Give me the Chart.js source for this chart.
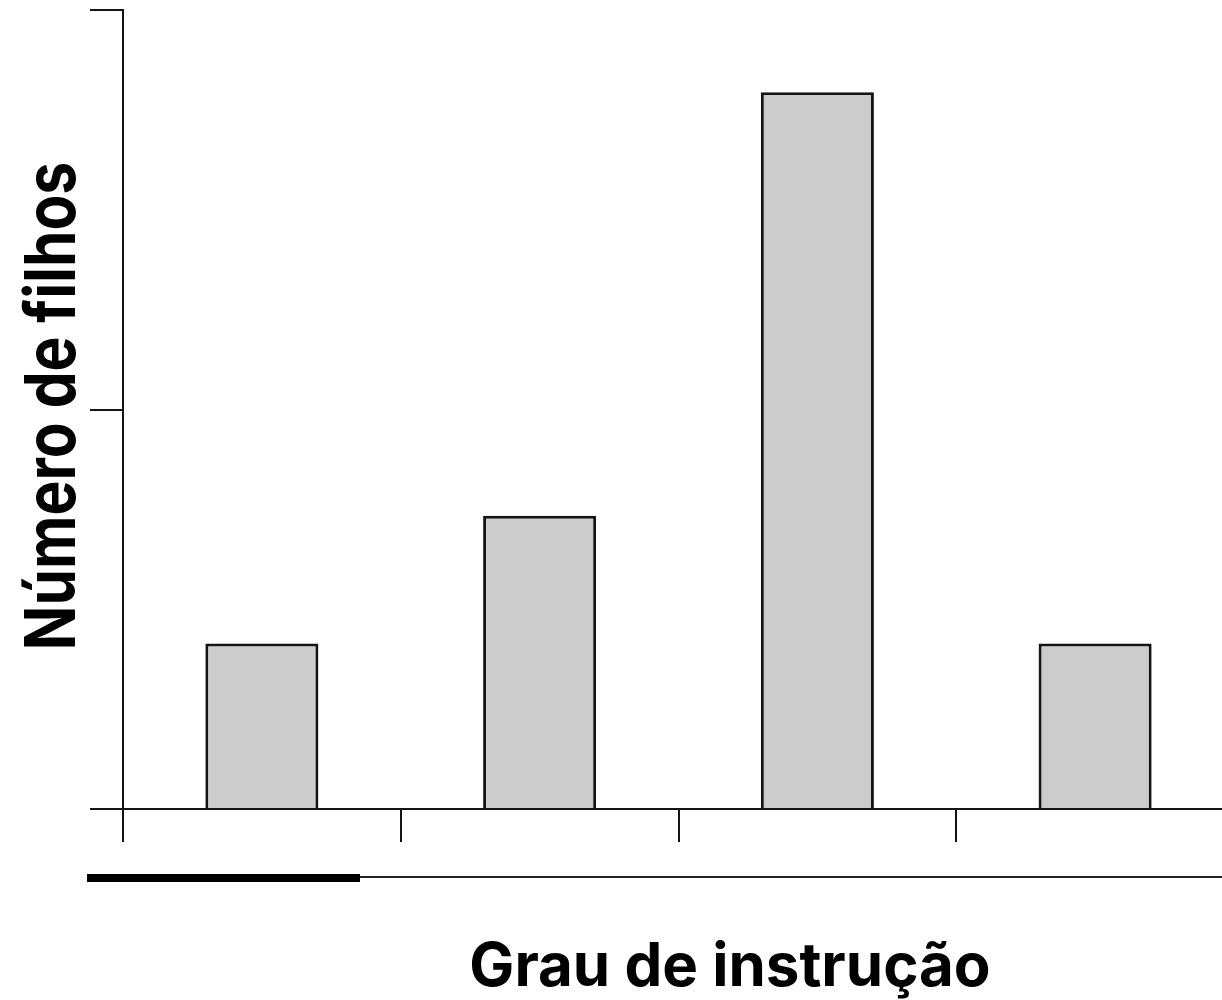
<!DOCTYPE html>
<html>
<head>
<meta charset="utf-8">
<script src="https://cdn.jsdelivr.net/npm/chart.js@4"></script>
<style>
  html, body { margin: 0; padding: 0; background: #fff; overflow: hidden; }
  canvas { display: block; }
</style>
</head>
<body>
<canvas id="myChart" width="1240" height="1000"></canvas>
<script>
// data
const categories = ["", "", "", ""];
const filhos = [2.07, 3.67, 8.97, 2.07];
const yTicks = [0, 5, 10];

const xTitle = "Grau de instrução";
const yTitle = "Número de filhos";

const lineColor = "#141414";

// titles and the bar under the axis
const extras = {
  id: "extras",
  afterDraw(chart) {
    const ctx = chart.ctx;
    ctx.save();
    // thin line + thick segment
    ctx.fillStyle = "#222";
    ctx.fillRect(87, 876, chart.width, 2);
    ctx.fillStyle = "#000";
    ctx.fillRect(87, 874, 273, 8);

    ctx.fillStyle = "#000";
    ctx.font = "bold 60px Inter";
    ctx.textAlign = "center";
    ctx.textBaseline = "alphabetic";
    ctx.fillText(xTitle, 730, 986);

    ctx.font = "bold 58.6px Inter";
    ctx.translate(75, 406);
    ctx.rotate(-Math.PI / 2);
    ctx.scale(1, 1.2);
    ctx.fillText(yTitle, 0, 0);
    ctx.restore();
  }
};

new Chart(document.getElementById("myChart").getContext("2d"), {
  type: "bar",
  data: {
    labels: categories,
    datasets: [
      {
        data: filhos,
        backgroundColor: "#cccccc",
        borderColor: lineColor,
        borderWidth: 3,
        categoryPercentage: 1,
        barPercentage: 0.407
      }
    ]
  },
  options: {
    responsive: false,
    animation: false,
    devicePixelRatio: 1,
    layout: { padding: { left: 90, top: 10, right: 6, bottom: 158 } },
    plugins: { legend: { display: false }, tooltip: { enabled: false } },
    scales: {
      x: {
        z: 1,
        offset: true,
        grid: { offset: true, drawOnChartArea: false, drawTicks: true, tickLength: 33, color: lineColor, lineWidth: 2 },
        border: { display: true, color: lineColor, width: 2 },
        ticks: { display: false },
        afterFit: s => { s.height = 33; }
      },
      y: {
        min: yTicks[0],
        max: yTicks[yTicks.length - 1],
        afterBuildTicks: s => { s.ticks = yTicks.map(v => ({ value: v })); },
        grid: { drawOnChartArea: false, drawTicks: true, tickLength: 33, color: lineColor, lineWidth: 2 },
        border: { display: true, color: lineColor, width: 2 },
        ticks: { display: false },
        afterFit: s => { s.width = 33; }
      }
    }
  },
  plugins: [extras]
});
</script>
</body>
</html>
